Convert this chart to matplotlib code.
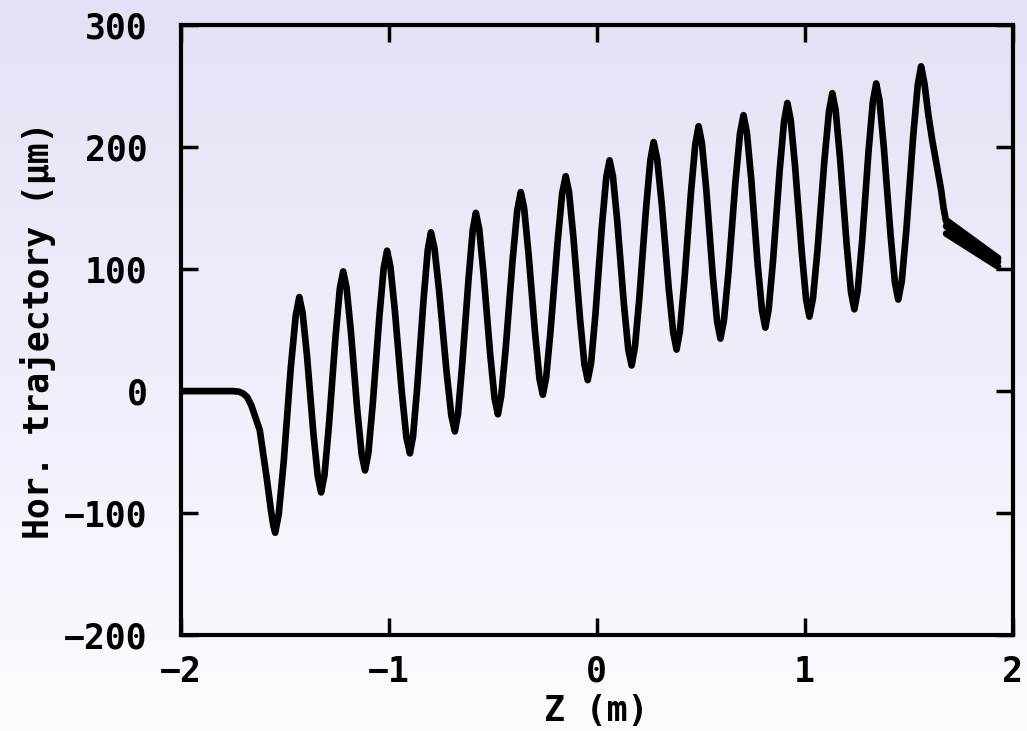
import numpy as np
import matplotlib
matplotlib.use('Agg')
import matplotlib.pyplot as plt
from matplotlib.colors import LinearSegmentedColormap

# trajectory (z in m, x in micrometres)
z = [-2.0, -1.75, -1.72, -1.70, -1.68, -1.66, -1.62, -1.586, -1.566, -1.555,
     -1.546, -1.529, -1.505, -1.471, -1.447,
     -1.430, -1.414, -1.393, -1.362, -1.341,
     -1.325, -1.309, -1.288, -1.256, -1.235,
     -1.219, -1.203, -1.182, -1.151, -1.130,
     -1.114, -1.098, -1.077, -1.045, -1.024,
     -1.008, -0.992, -0.970, -0.937, -0.915,
     -0.898, -0.883, -0.863, -0.832, -0.812,
     -0.797, -0.780, -0.757, -0.722, -0.699,
     -0.682, -0.667, -0.647, -0.616, -0.596,
     -0.581, -0.565, -0.544, -0.512, -0.491,
     -0.475, -0.459, -0.437, -0.404, -0.382,
     -0.365, -0.349, -0.328, -0.296, -0.275,
     -0.259, -0.243, -0.221, -0.188, -0.166,
     -0.149, -0.133, -0.112, -0.080, -0.059,
     -0.043, -0.027, -0.006, 0.025, 0.046,
     0.062, 0.078, 0.099, 0.131, 0.152,
     0.168, 0.184, 0.205, 0.237, 0.258,
     0.274, 0.291, 0.313, 0.346, 0.368,
     0.384, 0.400, 0.421, 0.453, 0.474,
     0.490, 0.506, 0.527, 0.558, 0.579,
     0.595, 0.612, 0.634, 0.667, 0.689,
     0.706, 0.722, 0.743, 0.774, 0.795,
     0.811, 0.827, 0.848, 0.880, 0.901,
     0.917, 0.933, 0.954, 0.986, 1.007,
     1.023, 1.040, 1.062, 1.095, 1.117,
     1.133, 1.149, 1.170, 1.202, 1.223,
     1.239, 1.255, 1.276, 1.307, 1.328,
     1.344, 1.360, 1.381, 1.413, 1.434,
     1.450, 1.467, 1.489, 1.522, 1.544,
     1.560, 1.576, 1.595, 1.613, 1.640, 1.656, 1.668, 1.680]
x = [0, 0, -0.5, -2, -5, -12, -32, -72, -98, -110,
     -116, -101, -58, 19, 62,
     77, 64, 29, -35, -70,
     -83, -69, -29, 44, 84,
     98, 85, 49, -16, -52,
     -65, -51, -11, 61, 101,
     115, 102, 65, -1, -38,
     -51, -37, 3, 76, 116,
     130, 117, 81, 16, -20,
     -33, -19, 21, 92, 132,
     146, 133, 96, 30, -6,
     -19, -4, 36, 108, 148,
     163, 150, 113, 47, 10,
     -3, 11, 51, 122, 162,
     176, 163, 126, 59, 22,
     9, 23, 63, 135, 175,
     189, 176, 139, 71, 34,
     21, 36, 76, 149, 189,
     204, 190, 153, 85, 48,
     34, 49, 89, 162, 202,
     217, 203, 165, 95, 57,
     43, 58, 98, 171, 211,
     226, 212, 174, 104, 66,
     52, 67, 107, 181, 221,
     236, 222, 184, 114, 75,
     61, 76, 116, 189, 229,
     244, 230, 191, 120, 81,
     67, 82, 122, 196, 237,
     252, 238, 199, 128, 89,
     75, 90, 132, 209, 251,
     266, 252, 226, 206, 180, 165, 150, 139]

# the smeared tail after the last period
tail_z = [1.680, 1.930]
tail_upper = [140, 109]
tail_mid = [135, 106]
tail_lower = [129, 102]

xticks = [-2, -1, 0, 1, 2]
yticks = [-200, -100, 0, 100, 200, 300]

fig = plt.figure(figsize=(10.27, 7.31), dpi=100)

# lavender to white background gradient
bg = fig.add_axes([0, 0, 1, 1], zorder=-10)
cmap = LinearSegmentedColormap.from_list('bg', ['#fbfbff', '#e2e2f6'])
bg.imshow(np.linspace(0, 1, 256).reshape(-1, 1), aspect='auto', cmap=cmap,
          origin='lower', extent=[0, 1, 0, 1])
bg.axis('off')

ax = fig.add_axes([0.176, 0.131, 0.810, 0.835])
ax.patch.set_alpha(0)

ax.plot(z, x, color='black', lw=4.8, solid_joinstyle='round', solid_capstyle='round')
for tv in [tail_upper, tail_mid, tail_lower]:
    ax.plot(tail_z, tv, color='black', lw=4.8, solid_capstyle='round')

ax.set_xlim(-2, 2)
ax.set_ylim(-200, 300)
ax.set_xticks(xticks)
ax.set_yticks(yticks)
ax.set_xticklabels(['\u22122', '\u22121', '0', '1', '2'])
ax.set_yticklabels(['\u2212200', '\u2212100', '0', '100', '200', '300'])

font = dict(family='DejaVu Sans Mono', weight='bold', size=25)
for lab in ax.get_xticklabels() + ax.get_yticklabels():
    lab.set_fontfamily('DejaVu Sans Mono')
    lab.set_fontweight('bold')
    lab.set_fontsize(25)

ax.tick_params(direction='in', length=12, width=2.5, top=True, right=True)
ax.tick_params(axis='y', pad=24)
ax.tick_params(axis='x', pad=14)
for s in ax.spines.values():
    s.set_linewidth(3)

ax.set_xlabel('Z (m)', labelpad=4, **font)
ax.set_ylabel('Hor. trajectory (\u03bcm)', labelpad=6, **font)

plt.savefig('out.png')
